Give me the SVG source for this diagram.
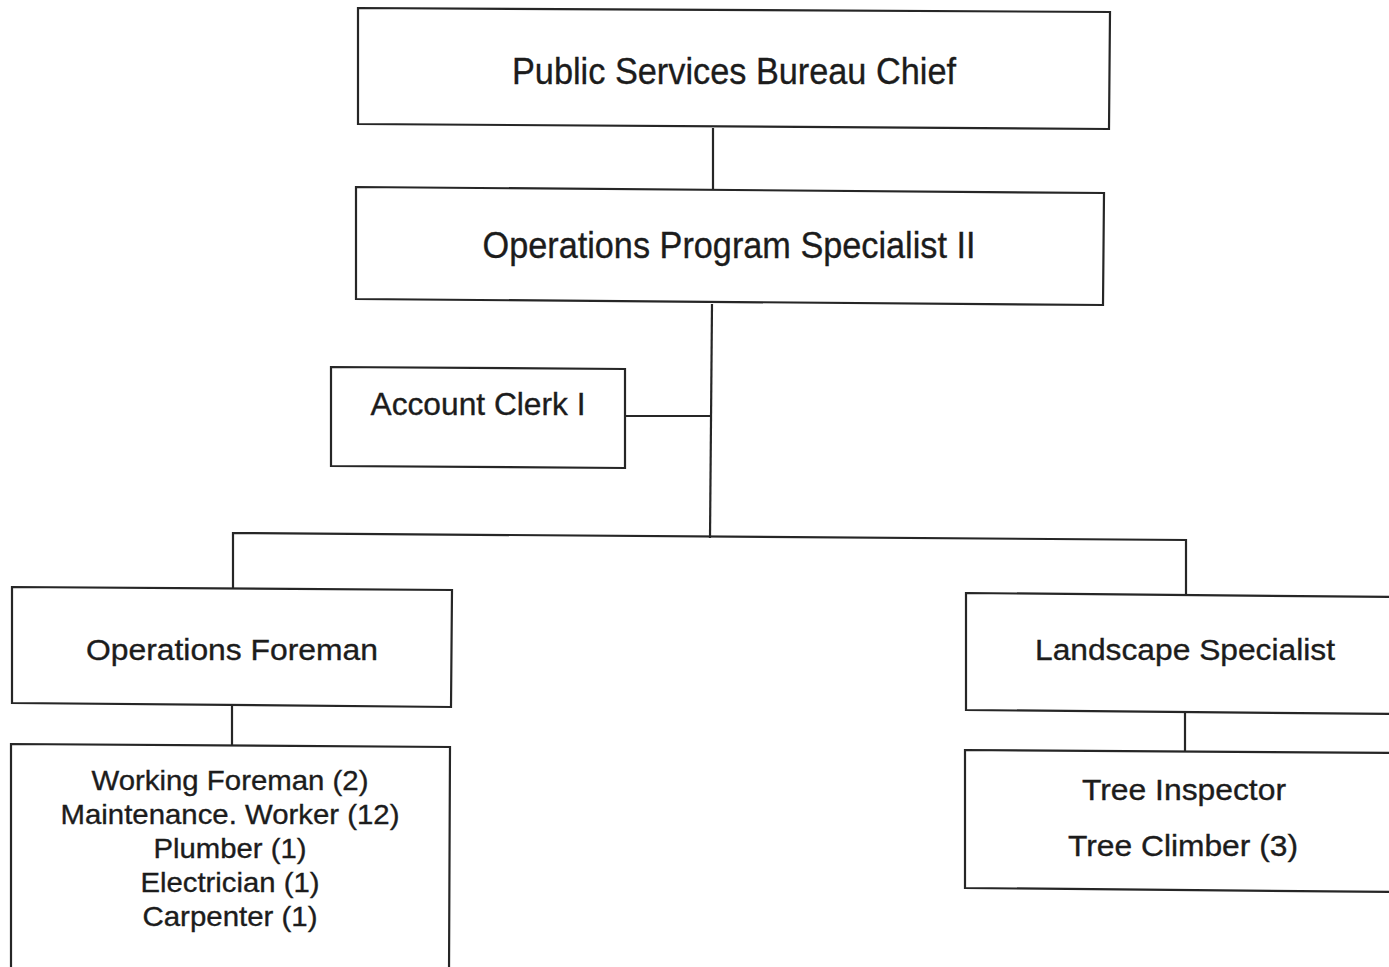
<svg xmlns="http://www.w3.org/2000/svg" width="1389" height="967" viewBox="0 0 1389 967">
  <style>
    .box { fill: #ffffff; stroke: #262626; stroke-width: 2.2; stroke-linejoin: miter; }
    .wire { fill: none; stroke: #262626; stroke-width: 2.2; }
    .lbl { font-family: "Liberation Sans", Arial, sans-serif; fill: #1c1c1c; stroke: #1c1c1c; stroke-width: 0.35; text-anchor: middle; }
    .big { font-size: 37px; }
    .clerk { font-size: 32px; }
    .mid { font-size: 29px; }
    .sm { font-size: 28px; }
  </style>
  <rect width="1389" height="967" fill="#ffffff"/>

  <!-- reporting lines -->
  <g id="connectors">
    <path class="wire" d="M713,128 L713,189"/>
    <path class="wire" d="M712,304 L710,538"/>
    <path class="wire" d="M625,416 L711,416"/>
    <path class="wire" d="M233,588 L233,533 L1186,540 L1186,596"/>
    <path class="wire" d="M232,706 L232,746"/>
    <path class="wire" d="M1185,712 L1185,752"/>
  </g>

  <g id="bureau-chief">
    <polygon class="box" points="358,8 1110,12 1109,129 358,124"/>
    <text class="lbl big" x="734" y="84" textLength="444" lengthAdjust="spacingAndGlyphs">Public Services Bureau Chief</text>
  </g>

  <g id="program-specialist">
    <polygon class="box" points="356,187 1104,193 1103,305 356,299"/>
    <text class="lbl big" x="729" y="258" textLength="493" lengthAdjust="spacingAndGlyphs">Operations Program Specialist II</text>
  </g>

  <g id="account-clerk">
    <polygon class="box" points="331,367 625,369 625,468 331,466"/>
    <text class="lbl clerk" x="478" y="415" textLength="215" lengthAdjust="spacingAndGlyphs">Account Clerk I</text>
  </g>

  <g id="operations-foreman">
    <polygon class="box" points="12,587 452,590 451,707 12,703"/>
    <text class="lbl mid" x="232" y="660" textLength="292" lengthAdjust="spacingAndGlyphs">Operations Foreman</text>
  </g>

  <g id="maintenance-crew">
    <polygon class="box" points="11,744 450,747 449,975 11,975"/>
    <text class="lbl sm" x="230" y="790" textLength="277" lengthAdjust="spacingAndGlyphs">Working Foreman (2)</text>
    <text class="lbl sm" x="230" y="824" textLength="339" lengthAdjust="spacingAndGlyphs">Maintenance. Worker (12)</text>
    <text class="lbl sm" x="230" y="858" textLength="153" lengthAdjust="spacingAndGlyphs">Plumber (1)</text>
    <text class="lbl sm" x="230" y="892" textLength="179" lengthAdjust="spacingAndGlyphs">Electrician (1)</text>
    <text class="lbl sm" x="230" y="926" textLength="175" lengthAdjust="spacingAndGlyphs">Carpenter (1)</text>
  </g>

  <g id="landscape-specialist">
    <polygon class="box" points="966,593 1395,597 1395,714 966,710"/>
    <text class="lbl mid" x="1185" y="660" textLength="300" lengthAdjust="spacingAndGlyphs">Landscape Specialist</text>
  </g>

  <g id="tree-crew">
    <polygon class="box" points="965,750 1395,753 1395,892 965,888"/>
    <text class="lbl mid" x="1184" y="800" textLength="204" lengthAdjust="spacingAndGlyphs">Tree Inspector</text>
    <text class="lbl mid" x="1183" y="856" textLength="230" lengthAdjust="spacingAndGlyphs">Tree Climber (3)</text>
  </g>
</svg>
